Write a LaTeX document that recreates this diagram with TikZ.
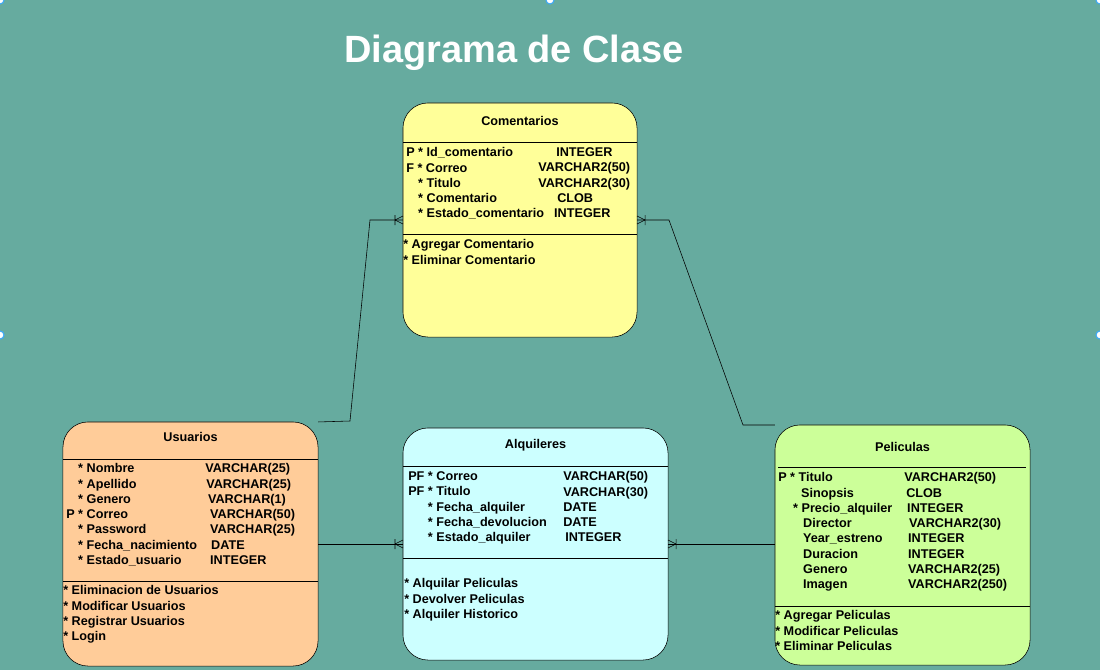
\documentclass[tikz,border=0pt]{standalone}
\usepackage{fontspec}
\setmainfont{Liberation Sans}
\usetikzlibrary{calc}

\definecolor{fondo}{HTML}{66AB9F}
\definecolor{amarillo}{HTML}{FFFF99}
\definecolor{naranja}{HTML}{FFCC99}
\definecolor{celeste}{HTML}{CCFFFF}
\definecolor{verde}{HTML}{CCFF99}
\definecolor{asa}{HTML}{3FA9F5}

% pata de gallo: #1 punto en el borde, #2 lado (-8 izquierda, 8 derecha)
\newcommand{\patagallo}[2]{%
  \draw ($(#1)+(#2,0)$) -- ($(#1)+(0,-4)$) ($(#1)+(#2,0)$) -- ($(#1)+(0,4)$)
        ($(#1)+(#2,-5)$) -- ($(#1)+(#2,5)$);}

\begin{document}
\begin{tikzpicture}[x=0.025cm,y=-0.025cm,
	tabla/.style={shape=rectangle,draw=black,rounded corners=0.625cm,inner sep=0,outer sep=0},
	titulo/.style={font=\fontsize{9}{11}\selectfont\bfseries},
	campos/.style={font=\fontsize{9}{10.85}\selectfont\bfseries,align=left,anchor=north west,inner sep=0}]
			\fill[fondo] (0,0) rectangle (1100,670);
			\useasboundingbox (0,0) rectangle (1100,670);
			\foreach \p in {(0,0),(550,0),(1100,0),(0,335),(1100,335)}
				\draw[asa,fill=white,line width=0.8pt] \p circle (4);

			\node[font=\fontsize{27}{32}\selectfont\bfseries,text=white] (titulo) at (514,53) {Diagrama de Clase};

			% Comentarios
			\node[tabla,fill=amarillo,minimum width=5.85cm,minimum height=5.85cm] (comentarios) at (520,220) {};
			\node[titulo] (tcomentarios) at (520,121) {Comentarios};
			\draw (403,142) -- (637,142);
			\draw (403,234) -- (637,234);
			\node[campos] (ncomentarios) at (406,147.5) {P * Id\_comentario\\F * Correo\\\hphantom{P} * Titulo\\\hphantom{P} * Comentario\\\hphantom{P} * Estado\_comentario};
			\node[campos] (dcomentarios) at (538,147.5) {\hspace*{12.8pt}INTEGER\\VARCHAR2(50)\\VARCHAR2(30)\\\hspace*{13.5pt}CLOB\\\hspace*{11.3pt}INTEGER};
			\node[campos] (mcomentarios) at (403,239.5) {* Agregar Comentario\\* Eliminar Comentario};

			% Usuarios
			\node[tabla,fill=naranja,minimum width=6.375cm,minimum height=6.1cm] (usuarios) at (190.5,544) {};
			\node[titulo] (tusuarios) at (190.5,437) {Usuarios};
			\draw (63,459) -- (318,459);
			\draw (63,581) -- (318,581);
			\node[campos] (nusuarios) at (66,463.5) {\hphantom{P} * Nombre\\\hphantom{P} * Apellido\\\hphantom{P} * Genero\\P * Correo\\\hphantom{P} * Password\\\hphantom{P} * Fecha\_nacimiento\\\hphantom{P} * Estado\_usuario};
			\node[campos] (dusuarios) at (205,463.5) {VARCHAR(25)\\\hspace*{0.7pt}VARCHAR(25)\\\hspace*{2pt}VARCHAR(1)\\\hspace*{3.5pt}VARCHAR(50)\\\hspace*{3.5pt}VARCHAR(25)\\\hspace*{4.2pt}DATE\\\hspace*{3.5pt}INTEGER};
			\node[campos] (musuarios) at (63,585.5) {* Eliminacion de Usuarios\\* Modificar Usuarios\\* Registrar Usuarios\\* Login};

			% Alquileres
			\node[tabla,fill=celeste,minimum width=6.625cm,minimum height=5.8cm] (alquileres) at (535.5,544) {};
			\node[titulo] (talquileres) at (535.5,445) {Alquileres};
			\draw (403,466) -- (668,466);
			\draw (403,558) -- (668,558);
			\node[campos] (nalquileres) at (408,471.5) {PF * Correo\\PF * Titulo\\\hphantom{PF} * Fecha\_alquiler\\\hphantom{PF} * Fecha\_devolucion\\\hphantom{PF} * Estado\_alquiler};
			\node[campos] (dalquileres) at (563,471.5) {VARCHAR(50)\\VARCHAR(30)\\DATE\\DATE\\\hspace*{1.4pt}INTEGER};
			\node[campos] (malquileres) at (404,578.5) {* Alquilar Peliculas\\* Devolver Peliculas\\* Alquiler Historico};

			% Peliculas
			\node[tabla,fill=verde,minimum width=6.375cm,minimum height=6cm] (peliculas) at (902.5,545) {};
			\node[titulo] (tpeliculas) at (902.5,447) {Peliculas};
			\draw (778,467) -- (1026,467);
			\draw (775,606) -- (1030,606);
			\node[campos] (npeliculas) at (778,472.5) {P * Titulo\\\hspace*{16.3pt}Sinopsis\\\hspace*{10.6pt}* Precio\_alquiler\\\hspace*{17.7pt}Director\\\hspace*{17.7pt}Year\_estreno\\\hspace*{17.7pt}Duracion\\\hspace*{17.7pt}Genero\\\hspace*{17.7pt}Imagen};
			\node[campos] (dpeliculas) at (904,472.5) {VARCHAR2(50)\\\hspace*{1.4pt}CLOB\\\hspace*{2.1pt}INTEGER\\\hspace*{3.5pt}VARCHAR2(30)\\\hspace*{2.8pt}INTEGER\\\hspace*{2.8pt}INTEGER\\\hspace*{2.8pt}VARCHAR2(25)\\\hspace*{2.8pt}VARCHAR2(250)};
			\node[campos] (mpeliculas) at (775,610.5) {* Agregar Peliculas\\* Modificar Peliculas\\* Eliminar Peliculas};

			% relaciones
			\coordinate (q1) at (350,421);
			\coordinate (q2) at (370,220);
			\coordinate (q3) at (669,220);
			\coordinate (q4) at (743,425);
			\draw (usuarios.north east) -- (q1) -- (q2) -- (comentarios.west);
			\draw (comentarios.east) -- (q3) -- (q4) -- (peliculas.north west);
			\draw (usuarios.east) -- (alquileres.west);
			\draw (alquileres.east) -- (alquileres.east -| peliculas.west);
			\patagallo{comentarios.west}{-8}
			\patagallo{comentarios.east}{8}
			\patagallo{alquileres.west}{-8}
			\patagallo{alquileres.east}{8}
		\end{tikzpicture}
\end{document}
